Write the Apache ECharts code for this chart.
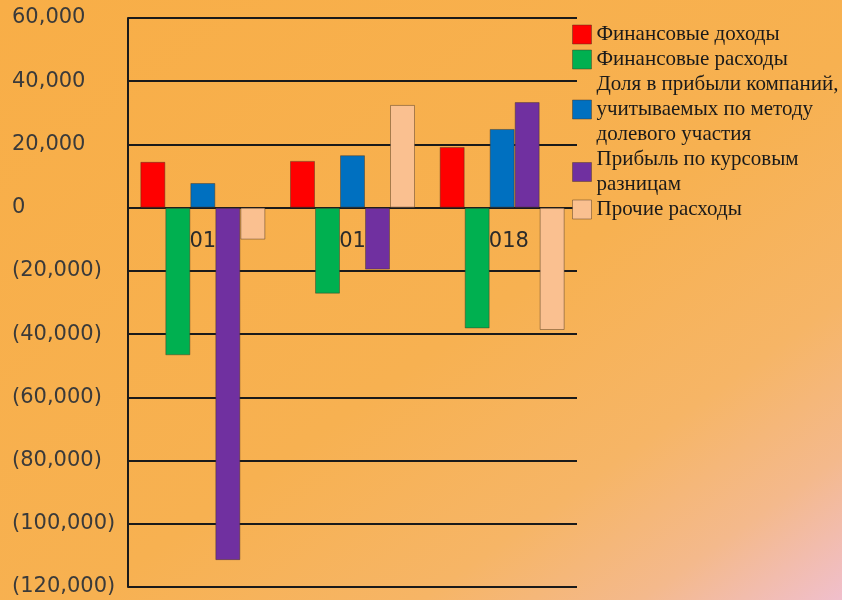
<!DOCTYPE html>
<html>
<head>
<meta charset="utf-8">
<script src="https://cdn.jsdelivr.net/npm/echarts@6/dist/echarts.min.js"></script>
<style>
  html, body { margin: 0; padding: 0; }
  #chart {
    width: 842px;
    height: 600px;
    background: linear-gradient(to bottom right, #f8ae47 0%, #f7b151 55%, #f6b566 75%, #f4b98c 88%, #f0bfcc 100%);
  }
</style>
</head>
<body>
<div id="chart"></div>
<script>
// годы (подписи почти закрыты столбцами)
var years = ['2016', '2017', '2018'];

var seriesNames = [
  'Финансовые доходы',
  'Финансовые расходы',
  'Доля в прибыли компаний,\nучитываемых по методу\nдолевого участия',
  'Прибыль по курсовым\nразницам',
  'Прочие расходы'
];

var finIncome = [14500, 14800, 19200];
var finExpense = [-46700, -27200, -38200];
var equityShare = [7800, 16600, 24900];
var fxProfit = [-111500, -19600, 33400];
var otherExpense = [-10100, 32500, -38700];

var colors = ['#ff0000', '#00b050', '#0070c0', '#7030a0', '#fac090'];

var yMin = -120000;
var yMax = 60000;
var yStep = 20000;

function fmt(v) {
  var s = Math.abs(v).toString().replace(/\B(?=(\d{3})+(?!\d))/g, ',');
  return v < 0 ? '(' + s + ')' : s;
}

var chart = echarts.init(document.getElementById('chart'));

var allData = [finIncome, finExpense, equityShare, fxProfit, otherExpense];
var series = allData.map(function (d, i) {
  return {
    name: seriesNames[i],
    type: 'bar',
    data: d,
    barWidth: 25,
    barGap: '0%',
    itemStyle: {
      color: colors[i],
      borderColor: 'rgba(70,50,30,0.45)',
      borderWidth: 1
    }
  };
});

// ось категорий сидит на нуле: сдвигаем её от низа сетки вверх
var gridTop = 18, gridBottom = 13, plotH = 600 - gridTop - gridBottom;
var zeroOffset = -plotH * (0 - yMin) / (yMax - yMin);

chart.setOption({
  backgroundColor: 'transparent',
  animation: false,
  color: colors,
  grid: {
    left: 128,
    right: 265,
    top: gridTop,
    bottom: gridBottom,
    outerBoundsMode: 'none'
  },
  legend: {
    orient: 'vertical',
    left: 572,
    top: 22,
    padding: 0,
    itemGap: 0,
    itemWidth: 19,
    itemHeight: 19,
    icon: 'rect',
    itemStyle: {
      borderColor: 'rgba(70,50,30,0.45)',
      borderWidth: 1
    },
    textStyle: {
      fontFamily: 'Liberation Serif',
      fontSize: 21,
      lineHeight: 25,
      color: '#1a1a1a'
    },
    data: seriesNames
  },
  xAxis: {
    type: 'category',
    data: years,
    offset: zeroOffset,
    axisLine: { onZero: false, lineStyle: { color: '#1a1a1a', width: 2 } },
    axisTick: { show: false },
    axisLabel: {
      margin: 23,
      fontFamily: 'DejaVu Sans',
      fontSize: 21,
      color: '#2a2a2a'
    }
  },
  yAxis: {
    type: 'value',
    min: yMin,
    max: yMax,
    interval: yStep,
    axisLine: { show: true, lineStyle: { color: '#1a1a1a', width: 2 } },
    axisTick: { show: false },
    splitLine: { lineStyle: { color: '#1a1a1a', width: 2 } },
    axisLabel: {
      align: 'left',
      margin: 116,
      padding: [6, 0, 0, 0],
      fontFamily: 'DejaVu Sans',
      fontSize: 21,
      color: '#3a3a3a',
      formatter: fmt
    }
  },
  series: series
});
</script>
</body>
</html>
